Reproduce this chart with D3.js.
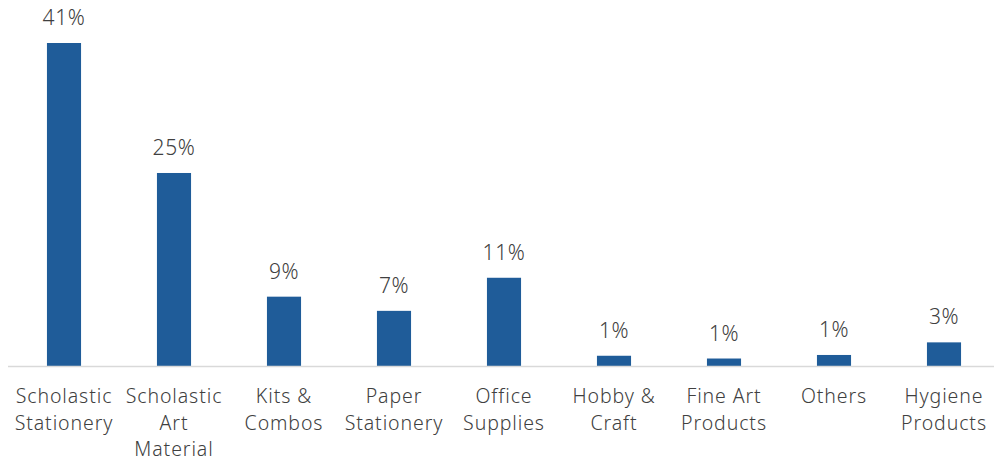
<!DOCTYPE html>
<html>
<head>
<meta charset="utf-8">
<script src="https://cdn.jsdelivr.net/npm/d3@7"></script>
<style>
  html, body { margin: 0; padding: 0; background: #ffffff; }
  svg { display: block; }
  text { font-family: "Noto Sans", "DejaVu Sans", sans-serif; fill: #404040; font-weight: 300; }
</style>
</head>
<body>
<svg id="chart" width="994" height="462"></svg>
<script>
const categories = [
  ["Scholastic", "Stationery"],
  ["Scholastic", "Art", "Material"],
  ["Kits &", "Combos"],
  ["Paper", "Stationery"],
  ["Office", "Supplies"],
  ["Hobby &", "Craft"],
  ["Fine Art", "Products"],
  ["Others"],
  ["Hygiene", "Products"]
];
const values = [41, 24.5, 8.8, 7, 11.2, 1.3, 0.95, 1.4, 3.0];
const valueLabels = ["41%", "25%", "9%", "7%", "11%", "1%", "1%", "1%", "3%"];

const svg = d3.select("#chart");
const idx = d3.range(categories.length);

const x = d3.scaleBand().domain(idx).range([9, 999]).paddingInner(0.69).paddingOuter(0.345);
const y = d3.scaleLinear().domain([0, 41]).range([366, 43]);

svg.append("g").selectAll("rect").data(idx).join("rect")
  .attr("x", i => x(i))
  .attr("width", x.bandwidth())
  .attr("y", i => y(values[i]))
  .attr("height", i => y(0) - y(values[i]))
  .attr("fill", "#1f5c99");

svg.append("line")
  .attr("x1", 8).attr("x2", 1000)
  .attr("y1", y(0) + 0.5).attr("y2", y(0) + 0.5)
  .attr("stroke", "#d9d9d9").attr("stroke-width", 1.5);

svg.append("g").selectAll("text").data(idx).join("text")
  .attr("x", i => x(i) + x.bandwidth() / 2)
  .attr("y", i => y(values[i]) - 18)
  .attr("text-anchor", "middle")
  .attr("font-size", 21)
  .attr("letter-spacing", 0.6)
  .text(i => valueLabels[i]);

const cat = svg.append("g").selectAll("text").data(idx).join("text")
  .attr("x", i => x(i) + x.bandwidth() / 2)
  .attr("y", y(0) + 37)
  .attr("text-anchor", "middle")
  .attr("font-size", 19.5)
  .attr("letter-spacing", 0.9);
cat.each(function(i) {
  const t = d3.select(this);
  categories[i].forEach((line, k) => {
    t.append("tspan")
      .attr("x", x(i) + x.bandwidth() / 2)
      .attr("dy", k === 0 ? 0 : 26.5)
      .text(line);
  });
});
</script>
</body>
</html>
